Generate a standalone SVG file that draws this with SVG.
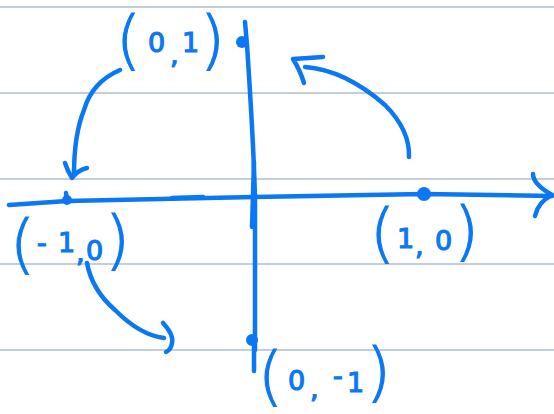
<svg xmlns="http://www.w3.org/2000/svg" width="554" height="414" viewBox="0 0 554 414">
<style>
.rule{stroke:#c3cde0;stroke-width:2;fill:none}
.ink{stroke:#0a78f5;stroke-width:4.5;fill:none;stroke-linecap:round;stroke-linejoin:round}
.dot{fill:#0a78f5}
.lbl{font-family:"DejaVu Sans",sans-serif;fill:#0a78f5;stroke:#0a78f5;stroke-width:1.2}
.p{font-size:64px;font-weight:300}
.d{font-size:27px}
</style>
<rect width="554" height="414" fill="#ffffff"/>
<g id="rules">
<line class="rule" x1="0" y1="7" x2="554" y2="7"/>
<line class="rule" x1="0" y1="93" x2="554" y2="93"/>
<line class="rule" x1="0" y1="179" x2="554" y2="179"/>
<line class="rule" x1="0" y1="264" x2="554" y2="264"/>
<line class="rule" x1="0" y1="350" x2="554" y2="350"/>
</g>
<g id="connectors">
<path class="ink" d="M9,205 L67,201 L254,197 L424,194 L552,196"/>
<path class="ink" d="M172,198 L203,197" stroke-width="6"/>
<path class="ink" d="M533,174 Q533,184 552,195 Q538,202 535,216"/>
<path class="ink" d="M245,22 L247,45 Q254,150 255,200 L255,350"/>
<path class="ink" d="M254,162 L252,227"/>
<path class="ink" d="M254,347 L254,371"/>
<path class="ink" d="M120,70 Q92,82 84,110 Q74,135 74,174"/>
<path class="ink" d="M65,163 Q68,172 72,178 Q78,170 87,168"/>
<path class="ink" d="M409,157 Q410,130 385,105 Q345,70 305,67"/>
<path class="ink" d="M304,83 Q300,70 293,59 L323,57"/>
<path class="ink" d="M87,263 Q92,290 115,310 Q140,335 164,338"/>
<path class="ink" d="M163,323 Q174,335 172,343 Q171,350 166,352"/>
</g>
<g id="p01">
<circle class="dot" cx="242" cy="42" r="6"/>
<text class="lbl"><tspan class="p" x="116" y="62">(</tspan><tspan class="d" x="148" y="52">0</tspan><tspan class="d" x="170" y="64">,</tspan><tspan class="d" x="182" y="52">1</tspan><tspan class="p" x="200" y="62">)</tspan></text>
</g>
<g id="pm10">
<circle class="dot" cx="67" cy="200" r="5"/>
<path class="ink" d="M66,193 L67,200"/>
<text class="lbl"><tspan class="p" x="10" y="266">(</tspan><tspan class="d" x="37" y="252">-</tspan><tspan class="d" x="58" y="252">1</tspan><tspan class="d" x="76" y="262">,</tspan><tspan class="d" x="86" y="260">0</tspan><tspan class="p" x="105" y="262">)</tspan></text>
</g>
<g id="p10">
<circle class="dot" cx="424" cy="194" r="7"/>
<text class="lbl"><tspan class="p" x="370" y="255">(</tspan><tspan class="d" x="397" y="248">1</tspan><tspan class="d" x="415" y="255">,</tspan><tspan class="d" x="435" y="250">0</tspan><tspan class="p" x="454" y="253">)</tspan></text>
</g>
<g id="p0m1">
<circle class="dot" cx="252" cy="340" r="6"/>
<text class="lbl"><tspan class="p" x="258" y="398">(</tspan><tspan class="d" x="288" y="390">0</tspan><tspan class="d" x="310" y="398">,</tspan><tspan class="d" x="333" y="385">-</tspan><tspan class="d" x="347" y="392">1</tspan><tspan class="p" x="366" y="394">)</tspan></text>
</g>
</svg>
